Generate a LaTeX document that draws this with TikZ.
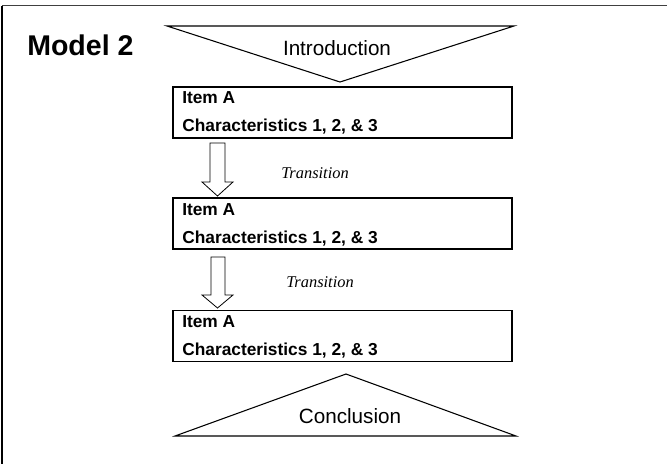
\documentclass[tikz,border=0pt]{standalone}
\usepackage{fontspec}
\setmainfont{Liberation Sans}
\newfontfamily\serifx{Liberation Serif}
\begin{document}
\begin{tikzpicture}[x=0.75pt,y=-0.75pt,
  itembox/.style={draw=black,line width=1.2pt,minimum width=254.25pt,minimum height=38.25pt,inner sep=0pt},
  tri/.style={draw=black,line width=0.8pt,line join=miter},
  blockarrow/.style={draw=black,line width=0.6pt,fill=white},
  itemtxt/.style={font=\bfseries\fontsize{13}{15}\selectfont,anchor=base west,inner sep=0pt},
  trans/.style={font=\serifx\itshape\fontsize{12.3}{14}\selectfont,anchor=base,inner sep=0pt},
  bigtxt/.style={font=\fontsize{15.5}{18}\selectfont,anchor=base,inner sep=0pt}]
\useasboundingbox (0,0) rectangle (667,464);
\fill[white] (0,0) rectangle (667,464);
% frame
\draw[line width=1.4pt,draw=black!75] (2,5.5) -- (667,5.5);
\draw[line width=1pt,draw=black] (2,5.5) -- (2,464);
% title
\node[font=\bfseries\fontsize{21.4}{24}\selectfont,anchor=base west,inner sep=0pt] (title) at (27,55) {Model 2};
% introduction triangle
\coordinate (i1) at (167,26); \coordinate (i2) at (514,26); \coordinate (i3) at (340,82);
\draw[tri] (i1) -- (i2) -- (i3) -- cycle;
\node[bigtxt] (intro) at (337,55) {Introduction};
% boxes
\node[itembox] (b1) at (342.5,112.5) {};
\node[itembox] (b2) at (342.5,223.5) {};
\node[itembox] (b3) at (342.5,336) {};
\node[itemtxt] (b1a) at (182,103) {Item A};
\node[itemtxt] (b1b) at (182,131.5) {Characteristics 1, 2, \& 3};
\node[itemtxt] (b2a) at (182,215.5) {Item A};
\node[itemtxt] (b2b) at (182,243) {Characteristics 1, 2, \& 3};
\node[itemtxt] (b3a) at (182,327) {Item A};
\node[itemtxt] (b3b) at (182,355) {Characteristics 1, 2, \& 3};
% block arrows
\draw[blockarrow] (210,143) -- (225,143) -- (225,182) -- (233,182) -- (217.5,196) -- (202,182) -- (210,182) -- cycle;
\draw[blockarrow] (211,257) -- (225,257) -- (225,295) -- (233,295) -- (217.5,308) -- (202,295) -- (211,295) -- cycle;
\node[trans] (t1) at (315,178) {Transition};
\node[trans] (t2) at (320,287) {Transition};
% conclusion triangle
\coordinate (c1) at (175,436); \coordinate (c2) at (516,436); \coordinate (c3) at (346,374);
\draw[tri] (c1) -- (c2) -- (c3) -- cycle;
\node[bigtxt] (concl) at (350,423) {Conclusion};
\end{tikzpicture}
\end{document}
